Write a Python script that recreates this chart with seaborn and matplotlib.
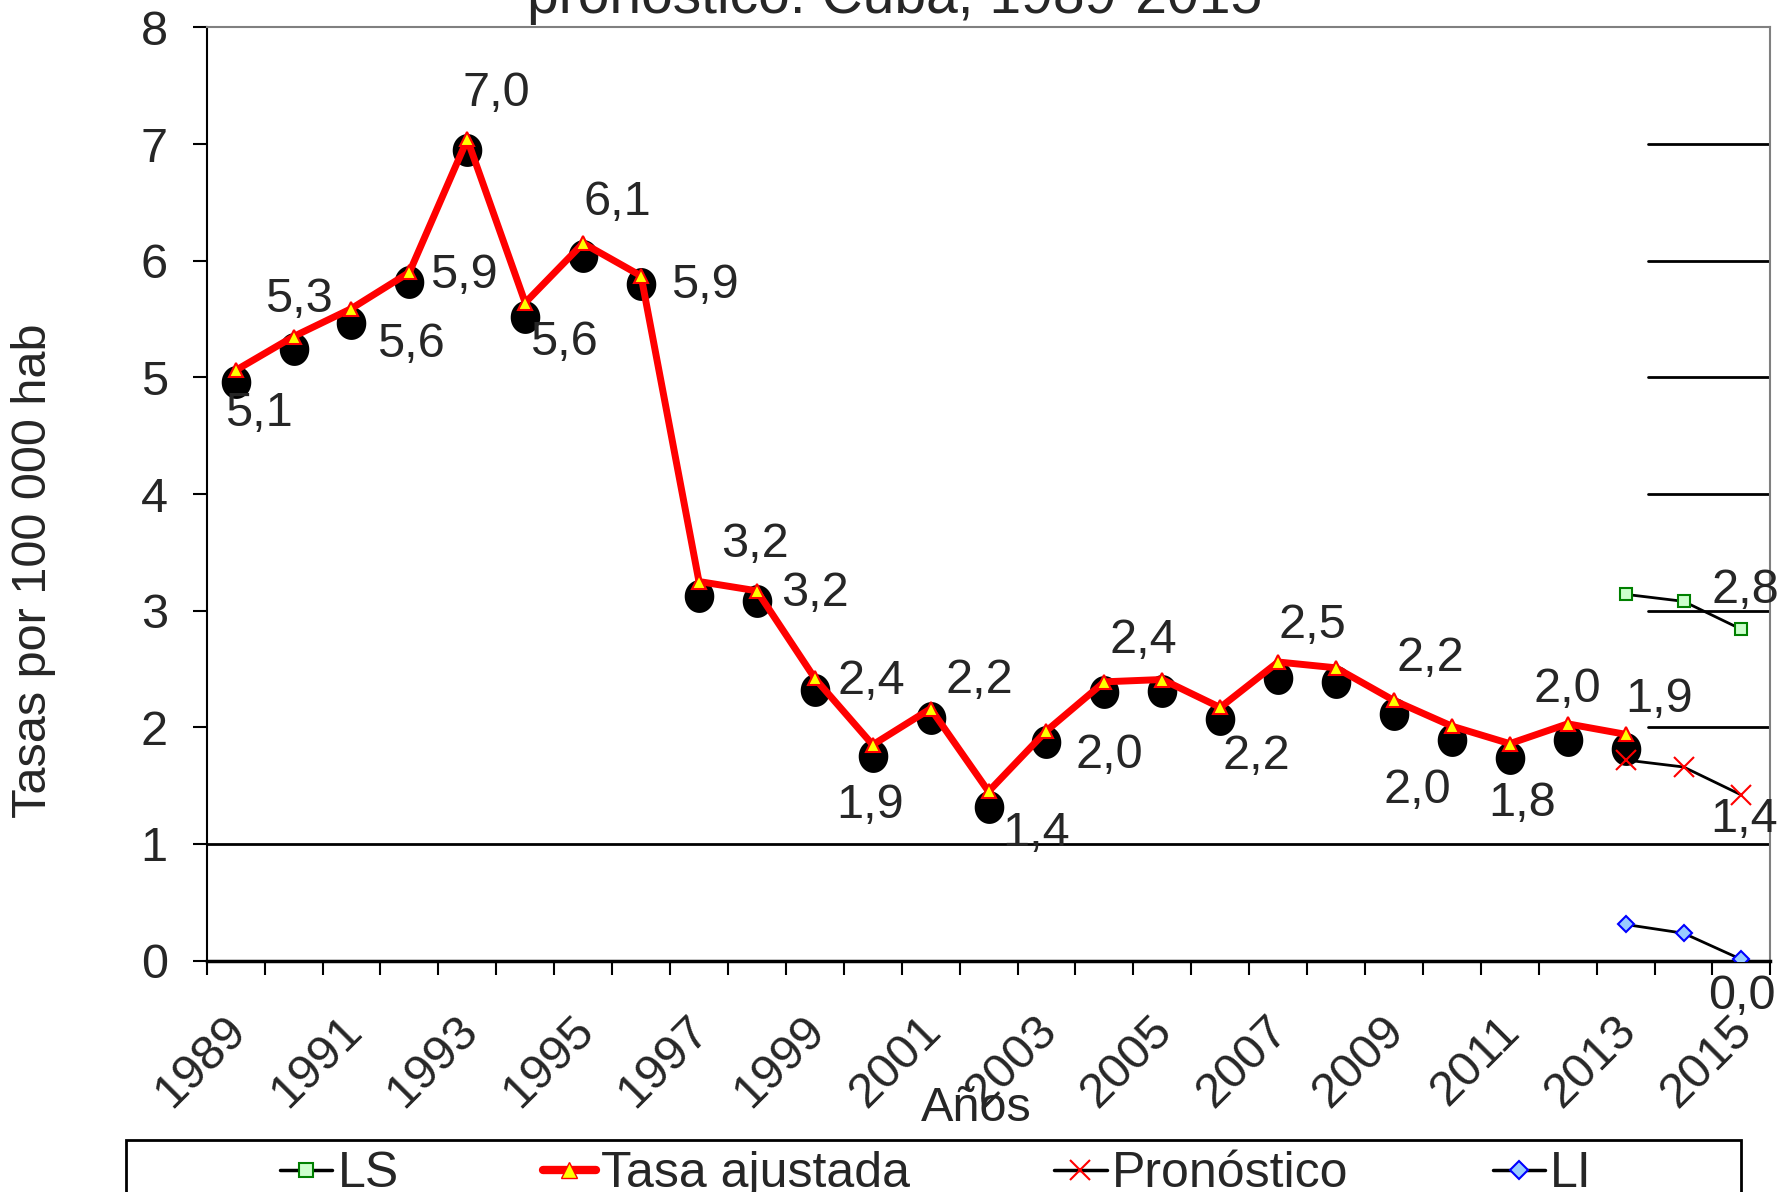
import numpy as np
import pandas as pd
import matplotlib
matplotlib.use("Agg")
import matplotlib.pyplot as plt
from matplotlib.lines import Line2D
from matplotlib.patches import Rectangle
from matplotlib.path import Path
from matplotlib.transforms import ScaledTranslation
import seaborn as sns

# ---- data ----
years = list(range(1989, 2016))
obs_years = list(range(1989, 2014))
observed = [4.96, 5.24, 5.47, 5.82, 6.95, 5.52, 6.04, 5.80, 3.13, 3.08, 2.32, 1.75, 2.08,
            1.32, 1.87, 2.30, 2.31, 2.07, 2.42, 2.39, 2.11, 1.89, 1.74, 1.89, 1.81]
tasa_ajustada = [5.06, 5.35, 5.59, 5.90, 7.04, 5.64, 6.15, 5.87, 3.25, 3.17, 2.42, 1.85, 2.16,
                 1.45, 1.97, 2.39, 2.41, 2.17, 2.56, 2.51, 2.23, 2.01, 1.86, 2.03, 1.94]
tasa_labels = ["5,1", "5,3", "5,6", "5,9", "7,0", "5,6", "6,1", "5,9", "3,2", "3,2", "2,4", "1,9", "2,2",
               "1,4", "2,0", "2,4", None, "2,2", "2,5", None, "2,2", "2,0", "1,8", "2,0", "1,9"]
fc_years = [2013, 2014, 2015]
pronostico = [1.72, 1.66, 1.42]
ls_vals = [3.14, 3.08, 2.84]
li_vals = [0.31, 0.235, 0.01]
fc_labels = {"Pronóstico": "1,4", "LS": "2,8", "LI": "0,0"}

# label offsets (points) for the Tasa ajustada data labels
label_offsets = [(17, -31), (4, 27), (43, -26), (39, -2), (21, 33), (28, -29), (25, 29), (46, -7),
                 (40, 27), (42, -2), (41, -2), (-2, -44), (35, 20), (34, -30), (45, -18), (28, 30),
                 None, (26, -35), (25, 26), None, (26, 30), (-25, -46), (9, -43), (0, 25), (24, 25)]

sns.set_style("white")
plt.rcParams["font.family"] = ["Liberation Sans", "DejaVu Sans"]
FS = 35

idx = {y: i for i, y in enumerate(years)}
df_obs = pd.DataFrame({"x": [idx[y] for y in obs_years], "obs": observed, "tasa": tasa_ajustada})
df_fc = pd.DataFrame({"x": [idx[y] for y in fc_years], "pron": pronostico, "ls": ls_vals, "li": li_vals})

# slightly tall blob marker
t = np.linspace(0, 2 * np.pi, 60)
blob = Path(np.column_stack([0.9 * np.cos(t), np.sin(t)]), closed=True)

fig = plt.figure(figsize=(17.91, 11.92), dpi=100)
ax = fig.add_axes([0.1154, 0.1941, 0.8731, 0.7829])

# black blobs (observed)
sns.scatterplot(data=df_obs, x="x", y="obs", ax=ax, color="black", s=560, marker=blob,
                edgecolor="black", linewidth=0, zorder=3, legend=False)
# Tasa ajustada
sns.lineplot(data=df_obs, x="x", y="tasa", ax=ax, color="#ff0000", linewidth=5, zorder=4,
             marker="^", markersize=10, markerfacecolor="#ffff00", markeredgecolor="#ff0000",
             markeredgewidth=1.5, legend=False)
# forecast + limits
sns.lineplot(data=df_fc, x="x", y="pron", ax=ax, color="black", linewidth=2, zorder=5,
             marker="x", markersize=14, markeredgecolor="#ff0000", markeredgewidth=1.5, legend=False)
sns.lineplot(data=df_fc, x="x", y="ls", ax=ax, color="black", linewidth=2, zorder=5,
             marker="s", markersize=9, markerfacecolor="#ccffcc", markeredgecolor="#008000",
             markeredgewidth=1.5, legend=False)
sns.lineplot(data=df_fc, x="x", y="li", ax=ax, color="black", linewidth=2, zorder=5,
             marker="D", markersize=8, markerfacecolor="#99ccff", markeredgecolor="#0000ff",
             markeredgewidth=1.5, legend=False)

# data labels
for i, (lab, off) in enumerate(zip(tasa_labels, label_offsets)):
    if lab is None:
        continue
    ax.annotate(lab, (df_obs["x"][i], tasa_ajustada[i]), xytext=off, textcoords="offset points",
                ha="center", va="center", fontsize=FS, zorder=6, annotation_clip=False)
last = df_fc["x"].iloc[-1]
ax.annotate(fc_labels["Pronóstico"], (last, pronostico[-1]), xytext=(2, -18), textcoords="offset points",
            ha="center", va="center", fontsize=FS, annotation_clip=False)
ax.annotate(fc_labels["LS"], (last, ls_vals[-1]), xytext=(3, 28), textcoords="offset points",
            ha="center", va="center", fontsize=FS, annotation_clip=False)
ax.annotate(fc_labels["LI"], (last, li_vals[-1]), xytext=(0, -27), textcoords="offset points",
            ha="center", va="center", fontsize=FS, annotation_clip=False)

# axes / grid
ax.set_xlim(-0.5, len(years) - 0.5)
ax.set_ylim(0, 8)
ax.axhline(1, color="black", linewidth=2, zorder=1)
for g in range(2, 8):
    ax.axhline(g, xmin=0.922, xmax=1, color="black", linewidth=2, zorder=1)

ax.set_yticks(range(0, 9))
ax.set_yticklabels([str(v) for v in range(0, 9)], fontsize=FS)
ax.tick_params(axis="y", direction="out", length=10, width=1.5, color="black", left=True, pad=18)

ax.set_xticks(range(0, len(years), 2))
ax.set_xticklabels([str(y) for y in years[::2]], fontsize=FS, rotation=45,
                   ha="right", va="top", rotation_mode="anchor")
ax.set_xticks(np.arange(-0.5, len(years), 1), minor=True)
ax.tick_params(axis="x", which="major", length=0, pad=34)
ax.tick_params(axis="x", which="minor", direction="out", length=10, width=1.5, color="black", bottom=True)
shift = ScaledTranslation(-9 / 72, 0, fig.dpi_scale_trans)
for lab in ax.get_xticklabels():
    lab.set_transform(lab.get_transform() + shift)

ax.set_xlabel("Años", fontsize=FS)
ax.xaxis.set_label_coords(0.492, -0.158)
ax.xaxis.label.set_va("center")
ax.set_ylabel("Tasas por 100 000 hab", fontsize=FS)
ax.yaxis.set_label_coords(-0.111, 0.4175)
ax.yaxis.label.set_va("center")

for side in ["top", "right"]:
    ax.spines[side].set_color("#808080")
    ax.spines[side].set_linewidth(1.5)
ax.spines["left"].set_color("black")
ax.spines["left"].set_linewidth(1.5)
ax.spines["bottom"].set_color("black")
ax.spines["bottom"].set_linewidth(2.5)

fig.text(0.4994, 0.989, "pronóstico. Cuba, 1989-2015", ha="center", va="baseline", fontsize=41)

handles = [
    Line2D([], [], color="black", linewidth=2.5, marker="s", markersize=10,
           markerfacecolor="#ccffcc", markeredgecolor="#008000", markeredgewidth=1.5),
    Line2D([], [], color="#ff0000", linewidth=6, marker="^", markersize=11,
           markerfacecolor="#ffff00", markeredgecolor="#ff0000"),
    Line2D([], [], color="black", linewidth=2.5, marker="x", markersize=14,
           markeredgecolor="#ff0000", markeredgewidth=1.5),
    Line2D([], [], color="black", linewidth=2.5, marker="D", markersize=9,
           markerfacecolor="#99ccff", markeredgecolor="#0000ff", markeredgewidth=1.5),
]
fig.legend(handles, ["LS", "Tasa ajustada", "Pronóstico", "LI"], loc="upper left",
           bbox_to_anchor=(0.1563, -0.06, 0.7326, 0.094), mode="expand", ncol=4,
           fontsize=36, frameon=False, handlelength=1.05, handletextpad=0.1,
           borderpad=0.0, borderaxespad=0.0, columnspacing=1.0)
fig.patches.append(Rectangle((0.0703, -0.05), 0.9018, 0.0936, transform=fig.transFigure,
                             fill=False, edgecolor="black", linewidth=2))

fig.savefig("out.png", dpi=100)
